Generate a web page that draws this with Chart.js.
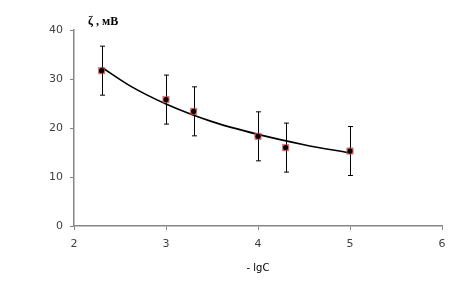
<!doctype html>
<html lang="ru">
  <head>
    <meta charset="UTF-8" />
    <title>ζ-потенциал</title>
    <script src="https://cdn.jsdelivr.net/npm/chart.js@4"></script>
    <style>
      html, body {
        margin: 0;
        padding: 0;
        background: #ffffff;
      }
      #wrap {
        width: 456px;
        height: 289px;
        position: relative;
      }
    </style>
  </head>
  <body>
    <div id="wrap">
      <canvas id="zetaChart"></canvas>
    </div>

    <script>
      // measured points: -lgC vs zeta, mV
      const lgC = [2.3, 3, 3.3, 4, 4.3, 5];
      const zeta = [31.7, 25.8, 23.4, 18.3, 16.0, 15.3];
      const zetaErr = [5, 5, 5, 5, 5, 5];

      // trend line
      const trendX = [2.3, 2.6, 3, 3.5, 4, 4.5, 5];
      const trendY = [32.4, 28.7, 24.9, 21.3, 18.7, 16.6, 14.9];

      const xTicks = [2, 3, 4, 5, 6];
      const yTicks = [0, 10, 20, 30, 40];

      const axisColor = "#868686";
      const tickFont = { family: "DejaVu Sans", size: 11 };

      const pts = lgC.map((x, i) => ({ x: x, y: zeta[i] }));
      const trend = trendX.map((x, i) => ({ x: x, y: trendY[i] }));

      // error bars, drawn under the markers
      const errorBars = {
        id: "errorBars",
        beforeDatasetsDraw(chart) {
          const { ctx, scales } = chart;
          ctx.save();
          ctx.strokeStyle = "#000000";
          ctx.lineWidth = 1;
          lgC.forEach((x, i) => {
            const px = Math.round(scales.x.getPixelForValue(x)) + 0.5;
            const top = scales.y.getPixelForValue(zeta[i] + zetaErr[i]);
            const bot = scales.y.getPixelForValue(zeta[i] - zetaErr[i]);
            ctx.beginPath();
            ctx.moveTo(px, top);
            ctx.lineTo(px, bot);
            ctx.moveTo(px - 2.5, top);
            ctx.lineTo(px + 2.5, top);
            ctx.moveTo(px - 2.5, bot);
            ctx.lineTo(px + 2.5, bot);
            ctx.stroke();
          });
          ctx.restore();
        },
      };

      // axis titles
      const axisTitles = {
        id: "axisTitles",
        afterDraw(chart) {
          const { ctx, chartArea } = chart;
          ctx.save();
          ctx.fillStyle = "#000000";
          ctx.textBaseline = "middle";
          ctx.textAlign = "left";
          ctx.font = "bold 12px 'Liberation Serif'";
          ctx.fillText("ζ , мВ", chartArea.left + 14, 22);
          ctx.textAlign = "center";
          ctx.font = "10px 'DejaVu Sans'";
          ctx.fillText("- lgC", (chartArea.left + chartArea.right) / 2, 268);
          ctx.restore();
        },
      };

      const ctx = document.getElementById("zetaChart").getContext("2d");
      new Chart(ctx, {
        type: "scatter",
        data: {
          datasets: [
            {
              label: "тренд",
              data: trend,
              showLine: true,
              borderColor: "#000000",
              borderWidth: 1.6,
              pointRadius: 0,
              cubicInterpolationMode: "monotone",
              order: 3,
            },
            {
              label: "ζ",
              data: pts,
              pointStyle: "rect",
              pointRadius: 4.5,
              backgroundColor: "rgba(210, 70, 70, 0.8)",
              borderColor: "rgba(200, 60, 60, 0.9)",
              borderWidth: 0.5,
              order: 2,
            },
            {
              label: "центр",
              data: pts,
              pointStyle: "circle",
              pointRadius: 2.6,
              backgroundColor: "#000000",
              borderColor: "#000000",
              borderWidth: 0,
              order: 1,
            },
          ],
        },
        options: {
          responsive: true,
          maintainAspectRatio: false,
          animation: false,
          layout: {
            padding: { top: 30, right: 14, left: 0, bottom: 0 },
          },
          plugins: {
            legend: { display: false },
            tooltip: { enabled: false },
          },
          scales: {
            x: {
              type: "linear",
              min: 2,
              max: 6,
              afterFit(scale) {
                scale.height = 63;
              },
              afterBuildTicks(scale) {
                scale.ticks = xTicks.map((v) => ({ value: v }));
              },
              grid: {
                display: true,
                drawOnChartArea: false,
                drawTicks: true,
                tickLength: 4,
                color: axisColor,
              },
              border: { color: axisColor, width: 1.5 },
              ticks: {
                font: tickFont,
                color: "#404040",
                padding: 8,
                maxRotation: 0,
              },
            },
            y: {
              type: "linear",
              min: 0,
              max: 40,
              afterFit(scale) {
                scale.width = 74;
              },
              afterBuildTicks(scale) {
                scale.ticks = yTicks.map((v) => ({ value: v }));
              },
              grid: {
                display: true,
                drawOnChartArea: false,
                drawTicks: true,
                tickLength: 4,
                color: axisColor,
              },
              border: { color: axisColor, width: 1.5 },
              ticks: {
                font: tickFont,
                color: "#404040",
                padding: 7,
              },
            },
          },
        },
        plugins: [errorBars, axisTitles],
      });
    </script>
  </body>
</html>
